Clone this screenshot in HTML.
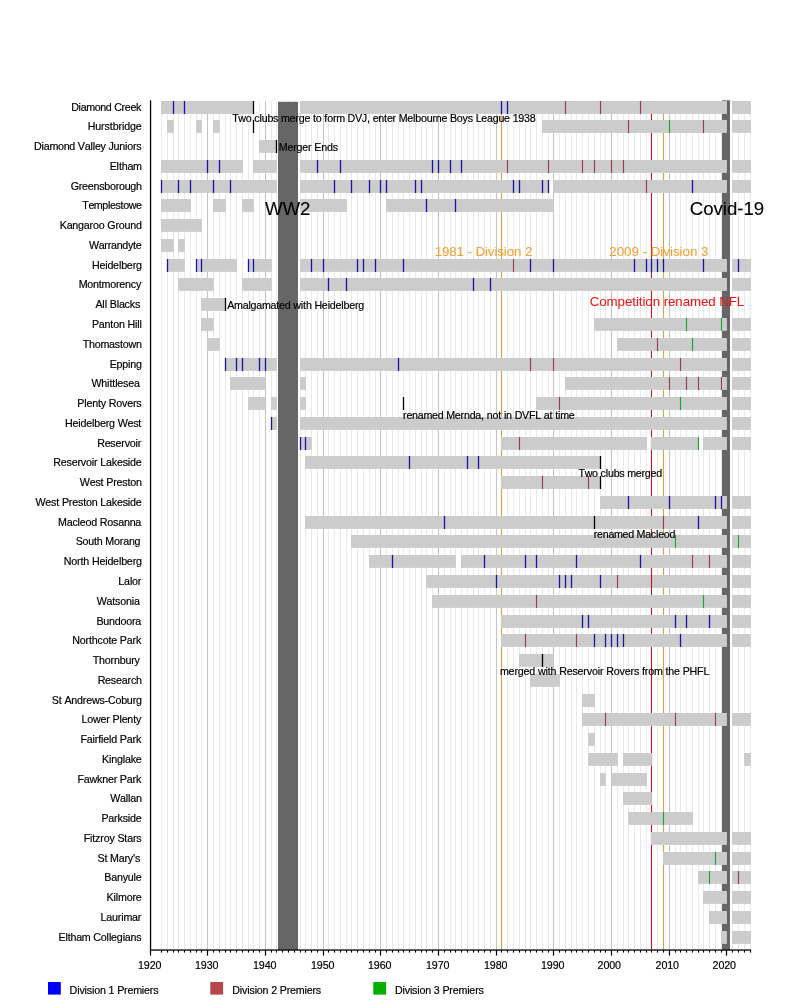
<!DOCTYPE html>
<html><head><meta charset="utf-8"><title>Timeline</title>
<style>
html,body{margin:0;padding:0;background:#fff;}
body{width:800px;height:1000px;overflow:hidden;}
svg{display:block;}
text{font-family:"Liberation Sans",sans-serif;}
</style></head><body>
<svg width="800" height="1000" viewBox="0 0 800 1000">
<rect x="0" y="0" width="800" height="1000" fill="#ffffff"/>
<rect x="161.00" y="101.00" width="1.00" height="849.00" fill="#e9e9e9"/>
<rect x="167.00" y="101.00" width="1.00" height="849.00" fill="#e9e9e9"/>
<rect x="173.00" y="101.00" width="1.00" height="849.00" fill="#e9e9e9"/>
<rect x="178.00" y="101.00" width="1.00" height="849.00" fill="#e9e9e9"/>
<rect x="184.00" y="101.00" width="1.00" height="849.00" fill="#e9e9e9"/>
<rect x="190.00" y="101.00" width="1.00" height="849.00" fill="#e9e9e9"/>
<rect x="196.00" y="101.00" width="1.00" height="849.00" fill="#e9e9e9"/>
<rect x="201.00" y="101.00" width="1.00" height="849.00" fill="#e9e9e9"/>
<rect x="213.00" y="101.00" width="1.00" height="849.00" fill="#e9e9e9"/>
<rect x="219.00" y="101.00" width="1.00" height="849.00" fill="#e9e9e9"/>
<rect x="225.00" y="101.00" width="1.00" height="849.00" fill="#e9e9e9"/>
<rect x="230.00" y="101.00" width="1.00" height="849.00" fill="#e9e9e9"/>
<rect x="236.00" y="101.00" width="1.00" height="849.00" fill="#e9e9e9"/>
<rect x="242.00" y="101.00" width="1.00" height="849.00" fill="#e9e9e9"/>
<rect x="248.00" y="101.00" width="1.00" height="849.00" fill="#e9e9e9"/>
<rect x="253.00" y="101.00" width="1.00" height="849.00" fill="#e9e9e9"/>
<rect x="259.00" y="101.00" width="1.00" height="849.00" fill="#e9e9e9"/>
<rect x="271.00" y="101.00" width="1.00" height="849.00" fill="#e9e9e9"/>
<rect x="276.00" y="101.00" width="1.00" height="849.00" fill="#e9e9e9"/>
<rect x="282.00" y="101.00" width="1.00" height="849.00" fill="#e9e9e9"/>
<rect x="288.00" y="101.00" width="1.00" height="849.00" fill="#e9e9e9"/>
<rect x="294.00" y="101.00" width="1.00" height="849.00" fill="#e9e9e9"/>
<rect x="300.00" y="101.00" width="1.00" height="849.00" fill="#e9e9e9"/>
<rect x="305.00" y="101.00" width="1.00" height="849.00" fill="#e9e9e9"/>
<rect x="311.00" y="101.00" width="1.00" height="849.00" fill="#e9e9e9"/>
<rect x="317.00" y="101.00" width="1.00" height="849.00" fill="#e9e9e9"/>
<rect x="328.00" y="101.00" width="1.00" height="849.00" fill="#e9e9e9"/>
<rect x="334.00" y="101.00" width="1.00" height="849.00" fill="#e9e9e9"/>
<rect x="340.00" y="101.00" width="1.00" height="849.00" fill="#e9e9e9"/>
<rect x="346.00" y="101.00" width="1.00" height="849.00" fill="#e9e9e9"/>
<rect x="351.00" y="101.00" width="1.00" height="849.00" fill="#e9e9e9"/>
<rect x="357.00" y="101.00" width="1.00" height="849.00" fill="#e9e9e9"/>
<rect x="363.00" y="101.00" width="1.00" height="849.00" fill="#e9e9e9"/>
<rect x="369.00" y="101.00" width="1.00" height="849.00" fill="#e9e9e9"/>
<rect x="375.00" y="101.00" width="1.00" height="849.00" fill="#e9e9e9"/>
<rect x="386.00" y="101.00" width="1.00" height="849.00" fill="#e9e9e9"/>
<rect x="392.00" y="101.00" width="1.00" height="849.00" fill="#e9e9e9"/>
<rect x="398.00" y="101.00" width="1.00" height="849.00" fill="#e9e9e9"/>
<rect x="403.00" y="101.00" width="1.00" height="849.00" fill="#e9e9e9"/>
<rect x="409.00" y="101.00" width="1.00" height="849.00" fill="#e9e9e9"/>
<rect x="415.00" y="101.00" width="1.00" height="849.00" fill="#e9e9e9"/>
<rect x="421.00" y="101.00" width="1.00" height="849.00" fill="#e9e9e9"/>
<rect x="426.00" y="101.00" width="1.00" height="849.00" fill="#e9e9e9"/>
<rect x="432.00" y="101.00" width="1.00" height="849.00" fill="#e9e9e9"/>
<rect x="444.00" y="101.00" width="1.00" height="849.00" fill="#e9e9e9"/>
<rect x="450.00" y="101.00" width="1.00" height="849.00" fill="#e9e9e9"/>
<rect x="455.00" y="101.00" width="1.00" height="849.00" fill="#e9e9e9"/>
<rect x="461.00" y="101.00" width="1.00" height="849.00" fill="#e9e9e9"/>
<rect x="467.00" y="101.00" width="1.00" height="849.00" fill="#e9e9e9"/>
<rect x="473.00" y="101.00" width="1.00" height="849.00" fill="#e9e9e9"/>
<rect x="478.00" y="101.00" width="1.00" height="849.00" fill="#e9e9e9"/>
<rect x="484.00" y="101.00" width="1.00" height="849.00" fill="#e9e9e9"/>
<rect x="490.00" y="101.00" width="1.00" height="849.00" fill="#e9e9e9"/>
<rect x="501.00" y="101.00" width="1.00" height="849.00" fill="#e9e9e9"/>
<rect x="507.00" y="101.00" width="1.00" height="849.00" fill="#e9e9e9"/>
<rect x="513.00" y="101.00" width="1.00" height="849.00" fill="#e9e9e9"/>
<rect x="519.00" y="101.00" width="1.00" height="849.00" fill="#e9e9e9"/>
<rect x="525.00" y="101.00" width="1.00" height="849.00" fill="#e9e9e9"/>
<rect x="530.00" y="101.00" width="1.00" height="849.00" fill="#e9e9e9"/>
<rect x="536.00" y="101.00" width="1.00" height="849.00" fill="#e9e9e9"/>
<rect x="542.00" y="101.00" width="1.00" height="849.00" fill="#e9e9e9"/>
<rect x="548.00" y="101.00" width="1.00" height="849.00" fill="#e9e9e9"/>
<rect x="559.00" y="101.00" width="1.00" height="849.00" fill="#e9e9e9"/>
<rect x="565.00" y="101.00" width="1.00" height="849.00" fill="#e9e9e9"/>
<rect x="571.00" y="101.00" width="1.00" height="849.00" fill="#e9e9e9"/>
<rect x="576.00" y="101.00" width="1.00" height="849.00" fill="#e9e9e9"/>
<rect x="582.00" y="101.00" width="1.00" height="849.00" fill="#e9e9e9"/>
<rect x="588.00" y="101.00" width="1.00" height="849.00" fill="#e9e9e9"/>
<rect x="594.00" y="101.00" width="1.00" height="849.00" fill="#e9e9e9"/>
<rect x="600.00" y="101.00" width="1.00" height="849.00" fill="#e9e9e9"/>
<rect x="605.00" y="101.00" width="1.00" height="849.00" fill="#e9e9e9"/>
<rect x="617.00" y="101.00" width="1.00" height="849.00" fill="#e9e9e9"/>
<rect x="623.00" y="101.00" width="1.00" height="849.00" fill="#e9e9e9"/>
<rect x="628.00" y="101.00" width="1.00" height="849.00" fill="#e9e9e9"/>
<rect x="634.00" y="101.00" width="1.00" height="849.00" fill="#e9e9e9"/>
<rect x="640.00" y="101.00" width="1.00" height="849.00" fill="#e9e9e9"/>
<rect x="646.00" y="101.00" width="1.00" height="849.00" fill="#e9e9e9"/>
<rect x="651.00" y="101.00" width="1.00" height="849.00" fill="#e9e9e9"/>
<rect x="657.00" y="101.00" width="1.00" height="849.00" fill="#e9e9e9"/>
<rect x="663.00" y="101.00" width="1.00" height="849.00" fill="#e9e9e9"/>
<rect x="675.00" y="101.00" width="1.00" height="849.00" fill="#e9e9e9"/>
<rect x="680.00" y="101.00" width="1.00" height="849.00" fill="#e9e9e9"/>
<rect x="686.00" y="101.00" width="1.00" height="849.00" fill="#e9e9e9"/>
<rect x="692.00" y="101.00" width="1.00" height="849.00" fill="#e9e9e9"/>
<rect x="698.00" y="101.00" width="1.00" height="849.00" fill="#e9e9e9"/>
<rect x="703.00" y="101.00" width="1.00" height="849.00" fill="#e9e9e9"/>
<rect x="709.00" y="101.00" width="1.00" height="849.00" fill="#e9e9e9"/>
<rect x="715.00" y="101.00" width="1.00" height="849.00" fill="#e9e9e9"/>
<rect x="721.00" y="101.00" width="1.00" height="849.00" fill="#e9e9e9"/>
<rect x="732.00" y="101.00" width="1.00" height="849.00" fill="#e9e9e9"/>
<rect x="738.00" y="101.00" width="1.00" height="849.00" fill="#e9e9e9"/>
<rect x="744.00" y="101.00" width="1.00" height="849.00" fill="#e9e9e9"/>
<rect x="750.00" y="101.00" width="1.00" height="849.00" fill="#e9e9e9"/>
<rect x="206.95" y="101.00" width="1.10" height="849.00" fill="#c4c4c4"/>
<rect x="264.95" y="101.00" width="1.10" height="849.00" fill="#c4c4c4"/>
<rect x="322.95" y="101.00" width="1.10" height="849.00" fill="#c4c4c4"/>
<rect x="379.95" y="101.00" width="1.10" height="849.00" fill="#c4c4c4"/>
<rect x="437.95" y="101.00" width="1.10" height="849.00" fill="#c4c4c4"/>
<rect x="495.95" y="101.00" width="1.10" height="849.00" fill="#c4c4c4"/>
<rect x="552.95" y="101.00" width="1.10" height="849.00" fill="#c4c4c4"/>
<rect x="610.95" y="101.00" width="1.10" height="849.00" fill="#c4c4c4"/>
<rect x="668.95" y="101.00" width="1.10" height="849.00" fill="#c4c4c4"/>
<rect x="725.95" y="101.00" width="1.10" height="849.00" fill="#c4c4c4"/>
<rect x="278.00" y="101.80" width="20.00" height="848.20" fill="#666666"/>
<rect x="722.00" y="100.30" width="8.00" height="849.70" fill="#666666"/>
<rect x="500.93" y="101.00" width="1.15" height="849.00" fill="#e2a040"/>
<rect x="650.95" y="101.00" width="1.10" height="849.00" fill="#cc1420"/>
<rect x="662.92" y="101.00" width="1.15" height="849.00" fill="#e2a040"/>
<rect x="161.00" y="101.00" width="92.90" height="12.90" fill="#cccccc"/>
<rect x="300.00" y="101.00" width="426.90" height="12.90" fill="#cccccc"/>
<rect x="732.00" y="101.00" width="18.90" height="12.90" fill="#cccccc"/>
<rect x="172.85" y="101.00" width="1.30" height="13.00" fill="#1b12a8"/>
<rect x="183.85" y="101.00" width="1.30" height="13.00" fill="#1b12a8"/>
<rect x="500.85" y="101.00" width="1.30" height="13.00" fill="#1b12a8"/>
<rect x="506.85" y="101.00" width="1.30" height="13.00" fill="#1b12a8"/>
<rect x="564.92" y="101.00" width="1.15" height="13.00" fill="#96404f"/>
<rect x="599.92" y="101.00" width="1.15" height="13.00" fill="#96404f"/>
<rect x="639.92" y="101.00" width="1.15" height="13.00" fill="#96404f"/>
<rect x="252.85" y="101.00" width="1.30" height="13.00" fill="#000000"/>
<rect x="167.00" y="120.00" width="6.90" height="12.90" fill="#cccccc"/>
<rect x="196.00" y="120.00" width="5.90" height="12.90" fill="#cccccc"/>
<rect x="213.00" y="120.00" width="6.90" height="12.90" fill="#cccccc"/>
<rect x="542.00" y="120.00" width="184.90" height="12.90" fill="#cccccc"/>
<rect x="732.00" y="120.00" width="18.90" height="12.90" fill="#cccccc"/>
<rect x="627.92" y="120.00" width="1.15" height="13.00" fill="#96404f"/>
<rect x="702.92" y="120.00" width="1.15" height="13.00" fill="#96404f"/>
<rect x="668.92" y="120.00" width="1.15" height="13.00" fill="#18a838"/>
<rect x="252.85" y="120.00" width="1.30" height="13.00" fill="#000000"/>
<rect x="259.00" y="140.00" width="17.90" height="12.90" fill="#cccccc"/>
<rect x="275.85" y="140.00" width="1.30" height="13.00" fill="#000000"/>
<rect x="161.00" y="160.00" width="81.90" height="12.90" fill="#cccccc"/>
<rect x="253.00" y="160.00" width="23.90" height="12.90" fill="#cccccc"/>
<rect x="300.00" y="160.00" width="426.90" height="12.90" fill="#cccccc"/>
<rect x="732.00" y="160.00" width="18.90" height="12.90" fill="#cccccc"/>
<rect x="206.85" y="160.00" width="1.30" height="13.00" fill="#1b12a8"/>
<rect x="218.85" y="160.00" width="1.30" height="13.00" fill="#1b12a8"/>
<rect x="316.85" y="160.00" width="1.30" height="13.00" fill="#1b12a8"/>
<rect x="339.85" y="160.00" width="1.30" height="13.00" fill="#1b12a8"/>
<rect x="431.85" y="160.00" width="1.30" height="13.00" fill="#1b12a8"/>
<rect x="437.85" y="160.00" width="1.30" height="13.00" fill="#1b12a8"/>
<rect x="449.85" y="160.00" width="1.30" height="13.00" fill="#1b12a8"/>
<rect x="460.85" y="160.00" width="1.30" height="13.00" fill="#1b12a8"/>
<rect x="506.93" y="160.00" width="1.15" height="13.00" fill="#96404f"/>
<rect x="547.92" y="160.00" width="1.15" height="13.00" fill="#96404f"/>
<rect x="581.92" y="160.00" width="1.15" height="13.00" fill="#96404f"/>
<rect x="593.92" y="160.00" width="1.15" height="13.00" fill="#96404f"/>
<rect x="610.92" y="160.00" width="1.15" height="13.00" fill="#96404f"/>
<rect x="622.92" y="160.00" width="1.15" height="13.00" fill="#96404f"/>
<rect x="161.00" y="180.00" width="115.90" height="12.90" fill="#cccccc"/>
<rect x="300.00" y="180.00" width="248.90" height="12.90" fill="#cccccc"/>
<rect x="553.00" y="180.00" width="173.90" height="12.90" fill="#cccccc"/>
<rect x="732.00" y="180.00" width="18.90" height="12.90" fill="#cccccc"/>
<rect x="160.85" y="180.00" width="1.30" height="13.00" fill="#1b12a8"/>
<rect x="177.85" y="180.00" width="1.30" height="13.00" fill="#1b12a8"/>
<rect x="189.85" y="180.00" width="1.30" height="13.00" fill="#1b12a8"/>
<rect x="212.85" y="180.00" width="1.30" height="13.00" fill="#1b12a8"/>
<rect x="229.85" y="180.00" width="1.30" height="13.00" fill="#1b12a8"/>
<rect x="333.85" y="180.00" width="1.30" height="13.00" fill="#1b12a8"/>
<rect x="350.85" y="180.00" width="1.30" height="13.00" fill="#1b12a8"/>
<rect x="368.85" y="180.00" width="1.30" height="13.00" fill="#1b12a8"/>
<rect x="379.85" y="180.00" width="1.30" height="13.00" fill="#1b12a8"/>
<rect x="385.85" y="180.00" width="1.30" height="13.00" fill="#1b12a8"/>
<rect x="414.85" y="180.00" width="1.30" height="13.00" fill="#1b12a8"/>
<rect x="420.85" y="180.00" width="1.30" height="13.00" fill="#1b12a8"/>
<rect x="512.85" y="180.00" width="1.30" height="13.00" fill="#1b12a8"/>
<rect x="518.85" y="180.00" width="1.30" height="13.00" fill="#1b12a8"/>
<rect x="541.85" y="180.00" width="1.30" height="13.00" fill="#1b12a8"/>
<rect x="547.85" y="180.00" width="1.30" height="13.00" fill="#1b12a8"/>
<rect x="691.85" y="180.00" width="1.30" height="13.00" fill="#1b12a8"/>
<rect x="645.92" y="180.00" width="1.15" height="13.00" fill="#96404f"/>
<rect x="161.00" y="199.00" width="29.90" height="12.90" fill="#cccccc"/>
<rect x="213.00" y="199.00" width="12.90" height="12.90" fill="#cccccc"/>
<rect x="242.00" y="199.00" width="11.90" height="12.90" fill="#cccccc"/>
<rect x="300.00" y="199.00" width="46.90" height="12.90" fill="#cccccc"/>
<rect x="386.00" y="199.00" width="167.90" height="12.90" fill="#cccccc"/>
<rect x="425.85" y="199.00" width="1.30" height="13.00" fill="#1b12a8"/>
<rect x="454.85" y="199.00" width="1.30" height="13.00" fill="#1b12a8"/>
<rect x="161.00" y="219.00" width="40.90" height="12.90" fill="#cccccc"/>
<rect x="161.00" y="239.00" width="12.90" height="12.90" fill="#cccccc"/>
<rect x="178.00" y="239.00" width="6.90" height="12.90" fill="#cccccc"/>
<rect x="167.00" y="259.00" width="17.90" height="12.90" fill="#cccccc"/>
<rect x="196.00" y="259.00" width="40.90" height="12.90" fill="#cccccc"/>
<rect x="248.00" y="259.00" width="23.90" height="12.90" fill="#cccccc"/>
<rect x="300.00" y="259.00" width="426.90" height="12.90" fill="#cccccc"/>
<rect x="732.00" y="259.00" width="18.90" height="12.90" fill="#cccccc"/>
<rect x="166.85" y="259.00" width="1.30" height="13.00" fill="#1b12a8"/>
<rect x="195.85" y="259.00" width="1.30" height="13.00" fill="#1b12a8"/>
<rect x="200.85" y="259.00" width="1.30" height="13.00" fill="#1b12a8"/>
<rect x="247.85" y="259.00" width="1.30" height="13.00" fill="#1b12a8"/>
<rect x="252.85" y="259.00" width="1.30" height="13.00" fill="#1b12a8"/>
<rect x="310.85" y="259.00" width="1.30" height="13.00" fill="#1b12a8"/>
<rect x="322.85" y="259.00" width="1.30" height="13.00" fill="#1b12a8"/>
<rect x="356.85" y="259.00" width="1.30" height="13.00" fill="#1b12a8"/>
<rect x="362.85" y="259.00" width="1.30" height="13.00" fill="#1b12a8"/>
<rect x="374.85" y="259.00" width="1.30" height="13.00" fill="#1b12a8"/>
<rect x="402.85" y="259.00" width="1.30" height="13.00" fill="#1b12a8"/>
<rect x="529.85" y="259.00" width="1.30" height="13.00" fill="#1b12a8"/>
<rect x="552.85" y="259.00" width="1.30" height="13.00" fill="#1b12a8"/>
<rect x="633.85" y="259.00" width="1.30" height="13.00" fill="#1b12a8"/>
<rect x="645.85" y="259.00" width="1.30" height="13.00" fill="#1b12a8"/>
<rect x="650.85" y="259.00" width="1.30" height="13.00" fill="#1b12a8"/>
<rect x="656.85" y="259.00" width="1.30" height="13.00" fill="#1b12a8"/>
<rect x="662.85" y="259.00" width="1.30" height="13.00" fill="#1b12a8"/>
<rect x="702.85" y="259.00" width="1.30" height="13.00" fill="#1b12a8"/>
<rect x="737.85" y="259.00" width="1.30" height="13.00" fill="#1b12a8"/>
<rect x="512.92" y="259.00" width="1.15" height="13.00" fill="#96404f"/>
<rect x="178.00" y="278.00" width="35.90" height="12.90" fill="#cccccc"/>
<rect x="242.00" y="278.00" width="29.90" height="12.90" fill="#cccccc"/>
<rect x="300.00" y="278.00" width="426.90" height="12.90" fill="#cccccc"/>
<rect x="732.00" y="278.00" width="18.90" height="12.90" fill="#cccccc"/>
<rect x="327.85" y="278.00" width="1.30" height="13.00" fill="#1b12a8"/>
<rect x="345.85" y="278.00" width="1.30" height="13.00" fill="#1b12a8"/>
<rect x="472.85" y="278.00" width="1.30" height="13.00" fill="#1b12a8"/>
<rect x="489.85" y="278.00" width="1.30" height="13.00" fill="#1b12a8"/>
<rect x="201.00" y="298.00" width="24.90" height="12.90" fill="#cccccc"/>
<rect x="224.85" y="298.00" width="1.30" height="13.00" fill="#000000"/>
<rect x="201.00" y="318.00" width="12.90" height="12.90" fill="#cccccc"/>
<rect x="594.00" y="318.00" width="132.90" height="12.90" fill="#cccccc"/>
<rect x="732.00" y="318.00" width="18.90" height="12.90" fill="#cccccc"/>
<rect x="685.92" y="318.00" width="1.15" height="13.00" fill="#18a838"/>
<rect x="720.92" y="318.00" width="1.15" height="13.00" fill="#18a838"/>
<rect x="207.00" y="338.00" width="12.90" height="12.90" fill="#cccccc"/>
<rect x="617.00" y="338.00" width="109.90" height="12.90" fill="#cccccc"/>
<rect x="732.00" y="338.00" width="18.90" height="12.90" fill="#cccccc"/>
<rect x="656.92" y="338.00" width="1.15" height="13.00" fill="#96404f"/>
<rect x="691.92" y="338.00" width="1.15" height="13.00" fill="#18a838"/>
<rect x="225.00" y="358.00" width="51.90" height="12.90" fill="#cccccc"/>
<rect x="300.00" y="358.00" width="426.90" height="12.90" fill="#cccccc"/>
<rect x="732.00" y="358.00" width="18.90" height="12.90" fill="#cccccc"/>
<rect x="224.85" y="358.00" width="1.30" height="13.00" fill="#1b12a8"/>
<rect x="235.85" y="358.00" width="1.30" height="13.00" fill="#1b12a8"/>
<rect x="241.85" y="358.00" width="1.30" height="13.00" fill="#1b12a8"/>
<rect x="258.85" y="358.00" width="1.30" height="13.00" fill="#1b12a8"/>
<rect x="264.85" y="358.00" width="1.30" height="13.00" fill="#1b12a8"/>
<rect x="397.85" y="358.00" width="1.30" height="13.00" fill="#1b12a8"/>
<rect x="529.92" y="358.00" width="1.15" height="13.00" fill="#96404f"/>
<rect x="552.92" y="358.00" width="1.15" height="13.00" fill="#96404f"/>
<rect x="679.92" y="358.00" width="1.15" height="13.00" fill="#96404f"/>
<rect x="230.00" y="377.00" width="35.90" height="12.90" fill="#cccccc"/>
<rect x="300.00" y="377.00" width="5.90" height="12.90" fill="#cccccc"/>
<rect x="565.00" y="377.00" width="161.90" height="12.90" fill="#cccccc"/>
<rect x="732.00" y="377.00" width="18.90" height="12.90" fill="#cccccc"/>
<rect x="668.92" y="377.00" width="1.15" height="13.00" fill="#96404f"/>
<rect x="685.92" y="377.00" width="1.15" height="13.00" fill="#96404f"/>
<rect x="697.92" y="377.00" width="1.15" height="13.00" fill="#96404f"/>
<rect x="720.92" y="377.00" width="1.15" height="13.00" fill="#96404f"/>
<rect x="248.00" y="397.00" width="17.90" height="12.90" fill="#cccccc"/>
<rect x="271.00" y="397.00" width="5.90" height="12.90" fill="#cccccc"/>
<rect x="300.00" y="397.00" width="5.90" height="12.90" fill="#cccccc"/>
<rect x="536.00" y="397.00" width="190.90" height="12.90" fill="#cccccc"/>
<rect x="732.00" y="397.00" width="18.90" height="12.90" fill="#cccccc"/>
<rect x="558.92" y="397.00" width="1.15" height="13.00" fill="#96404f"/>
<rect x="679.92" y="397.00" width="1.15" height="13.00" fill="#18a838"/>
<rect x="402.85" y="397.00" width="1.30" height="13.00" fill="#000000"/>
<rect x="271.00" y="417.00" width="5.90" height="12.90" fill="#cccccc"/>
<rect x="300.00" y="417.00" width="426.90" height="12.90" fill="#cccccc"/>
<rect x="732.00" y="417.00" width="18.90" height="12.90" fill="#cccccc"/>
<rect x="270.85" y="417.00" width="1.30" height="13.00" fill="#1b12a8"/>
<rect x="300.00" y="437.00" width="11.90" height="12.90" fill="#cccccc"/>
<rect x="501.00" y="437.00" width="145.90" height="12.90" fill="#cccccc"/>
<rect x="651.00" y="437.00" width="47.90" height="12.90" fill="#cccccc"/>
<rect x="703.00" y="437.00" width="23.90" height="12.90" fill="#cccccc"/>
<rect x="732.00" y="437.00" width="18.90" height="12.90" fill="#cccccc"/>
<rect x="299.85" y="437.00" width="1.30" height="13.00" fill="#1b12a8"/>
<rect x="304.85" y="437.00" width="1.30" height="13.00" fill="#1b12a8"/>
<rect x="518.92" y="437.00" width="1.15" height="13.00" fill="#96404f"/>
<rect x="697.92" y="437.00" width="1.15" height="13.00" fill="#18a838"/>
<rect x="305.00" y="456.00" width="295.90" height="12.90" fill="#cccccc"/>
<rect x="408.85" y="456.00" width="1.30" height="13.00" fill="#1b12a8"/>
<rect x="466.85" y="456.00" width="1.30" height="13.00" fill="#1b12a8"/>
<rect x="477.85" y="456.00" width="1.30" height="13.00" fill="#1b12a8"/>
<rect x="599.85" y="456.00" width="1.30" height="13.00" fill="#000000"/>
<rect x="501.00" y="476.00" width="99.90" height="12.90" fill="#cccccc"/>
<rect x="541.92" y="476.00" width="1.15" height="13.00" fill="#96404f"/>
<rect x="587.92" y="476.00" width="1.15" height="13.00" fill="#96404f"/>
<rect x="599.85" y="476.00" width="1.30" height="13.00" fill="#000000"/>
<rect x="600.00" y="496.00" width="126.90" height="12.90" fill="#cccccc"/>
<rect x="732.00" y="496.00" width="18.90" height="12.90" fill="#cccccc"/>
<rect x="627.85" y="496.00" width="1.30" height="13.00" fill="#1b12a8"/>
<rect x="668.85" y="496.00" width="1.30" height="13.00" fill="#1b12a8"/>
<rect x="714.85" y="496.00" width="1.30" height="13.00" fill="#1b12a8"/>
<rect x="720.85" y="496.00" width="1.30" height="13.00" fill="#1b12a8"/>
<rect x="305.00" y="516.00" width="421.90" height="12.90" fill="#cccccc"/>
<rect x="732.00" y="516.00" width="18.90" height="12.90" fill="#cccccc"/>
<rect x="443.85" y="516.00" width="1.30" height="13.00" fill="#1b12a8"/>
<rect x="697.85" y="516.00" width="1.30" height="13.00" fill="#1b12a8"/>
<rect x="662.92" y="516.00" width="1.15" height="13.00" fill="#96404f"/>
<rect x="593.85" y="516.00" width="1.30" height="13.00" fill="#000000"/>
<rect x="351.00" y="535.00" width="375.90" height="12.90" fill="#cccccc"/>
<rect x="732.00" y="535.00" width="18.90" height="12.90" fill="#cccccc"/>
<rect x="674.92" y="535.00" width="1.15" height="13.00" fill="#18a838"/>
<rect x="737.92" y="535.00" width="1.15" height="13.00" fill="#18a838"/>
<rect x="369.00" y="555.00" width="86.90" height="12.90" fill="#cccccc"/>
<rect x="461.00" y="555.00" width="265.90" height="12.90" fill="#cccccc"/>
<rect x="732.00" y="555.00" width="18.90" height="12.90" fill="#cccccc"/>
<rect x="391.85" y="555.00" width="1.30" height="13.00" fill="#1b12a8"/>
<rect x="483.85" y="555.00" width="1.30" height="13.00" fill="#1b12a8"/>
<rect x="524.85" y="555.00" width="1.30" height="13.00" fill="#1b12a8"/>
<rect x="535.85" y="555.00" width="1.30" height="13.00" fill="#1b12a8"/>
<rect x="575.85" y="555.00" width="1.30" height="13.00" fill="#1b12a8"/>
<rect x="639.85" y="555.00" width="1.30" height="13.00" fill="#1b12a8"/>
<rect x="691.92" y="555.00" width="1.15" height="13.00" fill="#96404f"/>
<rect x="708.92" y="555.00" width="1.15" height="13.00" fill="#96404f"/>
<rect x="426.00" y="575.00" width="300.90" height="12.90" fill="#cccccc"/>
<rect x="732.00" y="575.00" width="18.90" height="12.90" fill="#cccccc"/>
<rect x="495.85" y="575.00" width="1.30" height="13.00" fill="#1b12a8"/>
<rect x="558.85" y="575.00" width="1.30" height="13.00" fill="#1b12a8"/>
<rect x="564.85" y="575.00" width="1.30" height="13.00" fill="#1b12a8"/>
<rect x="570.85" y="575.00" width="1.30" height="13.00" fill="#1b12a8"/>
<rect x="599.85" y="575.00" width="1.30" height="13.00" fill="#1b12a8"/>
<rect x="616.92" y="575.00" width="1.15" height="13.00" fill="#96404f"/>
<rect x="650.92" y="575.00" width="1.15" height="13.00" fill="#cc1420"/>
<rect x="432.00" y="595.00" width="294.90" height="12.90" fill="#cccccc"/>
<rect x="732.00" y="595.00" width="18.90" height="12.90" fill="#cccccc"/>
<rect x="535.92" y="595.00" width="1.15" height="13.00" fill="#96404f"/>
<rect x="702.92" y="595.00" width="1.15" height="13.00" fill="#18a838"/>
<rect x="501.00" y="615.00" width="225.90" height="12.90" fill="#cccccc"/>
<rect x="732.00" y="615.00" width="18.90" height="12.90" fill="#cccccc"/>
<rect x="581.85" y="615.00" width="1.30" height="13.00" fill="#1b12a8"/>
<rect x="587.85" y="615.00" width="1.30" height="13.00" fill="#1b12a8"/>
<rect x="674.85" y="615.00" width="1.30" height="13.00" fill="#1b12a8"/>
<rect x="685.85" y="615.00" width="1.30" height="13.00" fill="#1b12a8"/>
<rect x="708.85" y="615.00" width="1.30" height="13.00" fill="#1b12a8"/>
<rect x="501.00" y="634.00" width="225.90" height="12.90" fill="#cccccc"/>
<rect x="732.00" y="634.00" width="18.90" height="12.90" fill="#cccccc"/>
<rect x="524.92" y="634.00" width="1.15" height="13.00" fill="#96404f"/>
<rect x="575.92" y="634.00" width="1.15" height="13.00" fill="#96404f"/>
<rect x="593.85" y="634.00" width="1.30" height="13.00" fill="#1b12a8"/>
<rect x="604.85" y="634.00" width="1.30" height="13.00" fill="#1b12a8"/>
<rect x="610.85" y="634.00" width="1.30" height="13.00" fill="#1b12a8"/>
<rect x="616.85" y="634.00" width="1.30" height="13.00" fill="#1b12a8"/>
<rect x="622.85" y="634.00" width="1.30" height="13.00" fill="#1b12a8"/>
<rect x="679.85" y="634.00" width="1.30" height="13.00" fill="#1b12a8"/>
<rect x="519.00" y="654.00" width="34.90" height="12.90" fill="#cccccc"/>
<rect x="541.85" y="654.00" width="1.30" height="13.00" fill="#000000"/>
<rect x="530.00" y="674.00" width="29.90" height="12.90" fill="#cccccc"/>
<rect x="582.00" y="694.00" width="12.90" height="12.90" fill="#cccccc"/>
<rect x="582.00" y="713.00" width="144.90" height="12.90" fill="#cccccc"/>
<rect x="732.00" y="713.00" width="18.90" height="12.90" fill="#cccccc"/>
<rect x="604.92" y="713.00" width="1.15" height="13.00" fill="#96404f"/>
<rect x="674.92" y="713.00" width="1.15" height="13.00" fill="#96404f"/>
<rect x="714.92" y="713.00" width="1.15" height="13.00" fill="#96404f"/>
<rect x="588.00" y="733.00" width="6.90" height="12.90" fill="#cccccc"/>
<rect x="588.00" y="753.00" width="29.90" height="12.90" fill="#cccccc"/>
<rect x="623.00" y="753.00" width="28.90" height="12.90" fill="#cccccc"/>
<rect x="744.00" y="753.00" width="6.90" height="12.90" fill="#cccccc"/>
<rect x="600.00" y="773.00" width="5.90" height="12.90" fill="#cccccc"/>
<rect x="611.00" y="773.00" width="35.90" height="12.90" fill="#cccccc"/>
<rect x="623.00" y="792.00" width="28.90" height="12.90" fill="#cccccc"/>
<rect x="628.00" y="812.00" width="64.90" height="12.90" fill="#cccccc"/>
<rect x="662.92" y="812.00" width="1.15" height="13.00" fill="#18a838"/>
<rect x="651.00" y="832.00" width="75.90" height="12.90" fill="#cccccc"/>
<rect x="732.00" y="832.00" width="18.90" height="12.90" fill="#cccccc"/>
<rect x="663.00" y="852.00" width="63.90" height="12.90" fill="#cccccc"/>
<rect x="732.00" y="852.00" width="18.90" height="12.90" fill="#cccccc"/>
<rect x="714.92" y="852.00" width="1.15" height="13.00" fill="#18a838"/>
<rect x="698.00" y="871.00" width="28.90" height="12.90" fill="#cccccc"/>
<rect x="732.00" y="871.00" width="18.90" height="12.90" fill="#cccccc"/>
<rect x="708.92" y="871.00" width="1.15" height="13.00" fill="#18a838"/>
<rect x="737.92" y="871.00" width="1.15" height="13.00" fill="#96404f"/>
<rect x="703.00" y="891.00" width="23.90" height="12.90" fill="#cccccc"/>
<rect x="732.00" y="891.00" width="18.90" height="12.90" fill="#cccccc"/>
<rect x="709.00" y="911.00" width="17.90" height="12.90" fill="#cccccc"/>
<rect x="732.00" y="911.00" width="18.90" height="12.90" fill="#cccccc"/>
<rect x="721.00" y="931.00" width="5.90" height="12.90" fill="#cccccc"/>
<rect x="732.00" y="931.00" width="18.90" height="12.90" fill="#cccccc"/>
<rect x="149.90" y="100.20" width="1.30" height="850.40" fill="#000"/>
<rect x="149.90" y="949.40" width="601.20" height="1.30" fill="#000"/>
<rect x="149.90" y="950.00" width="1.20" height="5.60" fill="#000"/>
<rect x="160.95" y="950.00" width="1.10" height="2.60" fill="#000"/>
<rect x="166.95" y="950.00" width="1.10" height="2.60" fill="#000"/>
<rect x="172.95" y="950.00" width="1.10" height="2.60" fill="#000"/>
<rect x="177.95" y="950.00" width="1.10" height="2.60" fill="#000"/>
<rect x="183.95" y="950.00" width="1.10" height="2.60" fill="#000"/>
<rect x="189.95" y="950.00" width="1.10" height="2.60" fill="#000"/>
<rect x="195.95" y="950.00" width="1.10" height="2.60" fill="#000"/>
<rect x="200.95" y="950.00" width="1.10" height="2.60" fill="#000"/>
<rect x="206.90" y="950.00" width="1.20" height="5.60" fill="#000"/>
<rect x="212.95" y="950.00" width="1.10" height="2.60" fill="#000"/>
<rect x="218.95" y="950.00" width="1.10" height="2.60" fill="#000"/>
<rect x="224.95" y="950.00" width="1.10" height="2.60" fill="#000"/>
<rect x="229.95" y="950.00" width="1.10" height="2.60" fill="#000"/>
<rect x="235.95" y="950.00" width="1.10" height="2.60" fill="#000"/>
<rect x="241.95" y="950.00" width="1.10" height="2.60" fill="#000"/>
<rect x="247.95" y="950.00" width="1.10" height="2.60" fill="#000"/>
<rect x="252.95" y="950.00" width="1.10" height="2.60" fill="#000"/>
<rect x="258.95" y="950.00" width="1.10" height="2.60" fill="#000"/>
<rect x="264.90" y="950.00" width="1.20" height="5.60" fill="#000"/>
<rect x="270.95" y="950.00" width="1.10" height="2.60" fill="#000"/>
<rect x="275.95" y="950.00" width="1.10" height="2.60" fill="#000"/>
<rect x="281.95" y="950.00" width="1.10" height="2.60" fill="#000"/>
<rect x="287.95" y="950.00" width="1.10" height="2.60" fill="#000"/>
<rect x="293.95" y="950.00" width="1.10" height="2.60" fill="#000"/>
<rect x="299.95" y="950.00" width="1.10" height="2.60" fill="#000"/>
<rect x="304.95" y="950.00" width="1.10" height="2.60" fill="#000"/>
<rect x="310.95" y="950.00" width="1.10" height="2.60" fill="#000"/>
<rect x="316.95" y="950.00" width="1.10" height="2.60" fill="#000"/>
<rect x="322.90" y="950.00" width="1.20" height="5.60" fill="#000"/>
<rect x="327.95" y="950.00" width="1.10" height="2.60" fill="#000"/>
<rect x="333.95" y="950.00" width="1.10" height="2.60" fill="#000"/>
<rect x="339.95" y="950.00" width="1.10" height="2.60" fill="#000"/>
<rect x="345.95" y="950.00" width="1.10" height="2.60" fill="#000"/>
<rect x="350.95" y="950.00" width="1.10" height="2.60" fill="#000"/>
<rect x="356.95" y="950.00" width="1.10" height="2.60" fill="#000"/>
<rect x="362.95" y="950.00" width="1.10" height="2.60" fill="#000"/>
<rect x="368.95" y="950.00" width="1.10" height="2.60" fill="#000"/>
<rect x="374.95" y="950.00" width="1.10" height="2.60" fill="#000"/>
<rect x="379.90" y="950.00" width="1.20" height="5.60" fill="#000"/>
<rect x="385.95" y="950.00" width="1.10" height="2.60" fill="#000"/>
<rect x="391.95" y="950.00" width="1.10" height="2.60" fill="#000"/>
<rect x="397.95" y="950.00" width="1.10" height="2.60" fill="#000"/>
<rect x="402.95" y="950.00" width="1.10" height="2.60" fill="#000"/>
<rect x="408.95" y="950.00" width="1.10" height="2.60" fill="#000"/>
<rect x="414.95" y="950.00" width="1.10" height="2.60" fill="#000"/>
<rect x="420.95" y="950.00" width="1.10" height="2.60" fill="#000"/>
<rect x="425.95" y="950.00" width="1.10" height="2.60" fill="#000"/>
<rect x="431.95" y="950.00" width="1.10" height="2.60" fill="#000"/>
<rect x="437.90" y="950.00" width="1.20" height="5.60" fill="#000"/>
<rect x="443.95" y="950.00" width="1.10" height="2.60" fill="#000"/>
<rect x="449.95" y="950.00" width="1.10" height="2.60" fill="#000"/>
<rect x="454.95" y="950.00" width="1.10" height="2.60" fill="#000"/>
<rect x="460.95" y="950.00" width="1.10" height="2.60" fill="#000"/>
<rect x="466.95" y="950.00" width="1.10" height="2.60" fill="#000"/>
<rect x="472.95" y="950.00" width="1.10" height="2.60" fill="#000"/>
<rect x="477.95" y="950.00" width="1.10" height="2.60" fill="#000"/>
<rect x="483.95" y="950.00" width="1.10" height="2.60" fill="#000"/>
<rect x="489.95" y="950.00" width="1.10" height="2.60" fill="#000"/>
<rect x="495.90" y="950.00" width="1.20" height="5.60" fill="#000"/>
<rect x="500.95" y="950.00" width="1.10" height="2.60" fill="#000"/>
<rect x="506.95" y="950.00" width="1.10" height="2.60" fill="#000"/>
<rect x="512.95" y="950.00" width="1.10" height="2.60" fill="#000"/>
<rect x="518.95" y="950.00" width="1.10" height="2.60" fill="#000"/>
<rect x="524.95" y="950.00" width="1.10" height="2.60" fill="#000"/>
<rect x="529.95" y="950.00" width="1.10" height="2.60" fill="#000"/>
<rect x="535.95" y="950.00" width="1.10" height="2.60" fill="#000"/>
<rect x="541.95" y="950.00" width="1.10" height="2.60" fill="#000"/>
<rect x="547.95" y="950.00" width="1.10" height="2.60" fill="#000"/>
<rect x="552.90" y="950.00" width="1.20" height="5.60" fill="#000"/>
<rect x="558.95" y="950.00" width="1.10" height="2.60" fill="#000"/>
<rect x="564.95" y="950.00" width="1.10" height="2.60" fill="#000"/>
<rect x="570.95" y="950.00" width="1.10" height="2.60" fill="#000"/>
<rect x="575.95" y="950.00" width="1.10" height="2.60" fill="#000"/>
<rect x="581.95" y="950.00" width="1.10" height="2.60" fill="#000"/>
<rect x="587.95" y="950.00" width="1.10" height="2.60" fill="#000"/>
<rect x="593.95" y="950.00" width="1.10" height="2.60" fill="#000"/>
<rect x="599.95" y="950.00" width="1.10" height="2.60" fill="#000"/>
<rect x="604.95" y="950.00" width="1.10" height="2.60" fill="#000"/>
<rect x="610.90" y="950.00" width="1.20" height="5.60" fill="#000"/>
<rect x="616.95" y="950.00" width="1.10" height="2.60" fill="#000"/>
<rect x="622.95" y="950.00" width="1.10" height="2.60" fill="#000"/>
<rect x="627.95" y="950.00" width="1.10" height="2.60" fill="#000"/>
<rect x="633.95" y="950.00" width="1.10" height="2.60" fill="#000"/>
<rect x="639.95" y="950.00" width="1.10" height="2.60" fill="#000"/>
<rect x="645.95" y="950.00" width="1.10" height="2.60" fill="#000"/>
<rect x="650.95" y="950.00" width="1.10" height="2.60" fill="#000"/>
<rect x="656.95" y="950.00" width="1.10" height="2.60" fill="#000"/>
<rect x="662.95" y="950.00" width="1.10" height="2.60" fill="#000"/>
<rect x="668.90" y="950.00" width="1.20" height="5.60" fill="#000"/>
<rect x="674.95" y="950.00" width="1.10" height="2.60" fill="#000"/>
<rect x="679.95" y="950.00" width="1.10" height="2.60" fill="#000"/>
<rect x="685.95" y="950.00" width="1.10" height="2.60" fill="#000"/>
<rect x="691.95" y="950.00" width="1.10" height="2.60" fill="#000"/>
<rect x="697.95" y="950.00" width="1.10" height="2.60" fill="#000"/>
<rect x="702.95" y="950.00" width="1.10" height="2.60" fill="#000"/>
<rect x="708.95" y="950.00" width="1.10" height="2.60" fill="#000"/>
<rect x="714.95" y="950.00" width="1.10" height="2.60" fill="#000"/>
<rect x="720.95" y="950.00" width="1.10" height="2.60" fill="#000"/>
<rect x="725.90" y="950.00" width="1.20" height="5.60" fill="#000"/>
<rect x="731.95" y="950.00" width="1.10" height="2.60" fill="#000"/>
<rect x="737.95" y="950.00" width="1.10" height="2.60" fill="#000"/>
<rect x="743.95" y="950.00" width="1.10" height="2.60" fill="#000"/>
<rect x="749.95" y="950.00" width="1.10" height="2.60" fill="#000"/>
<text x="138.03 143.85 149.66 155.47" y="968.90" font-size="10.7" fill="#000" stroke="#000" stroke-width="0.18">1920</text>
<text x="195.03 200.85 206.66 212.47" y="968.90" font-size="10.7" fill="#000" stroke="#000" stroke-width="0.18">1930</text>
<text x="253.03 258.85 264.66 270.47" y="968.90" font-size="10.7" fill="#000" stroke="#000" stroke-width="0.18">1940</text>
<text x="311.03 316.85 322.66 328.47" y="968.90" font-size="10.7" fill="#000" stroke="#000" stroke-width="0.18">1950</text>
<text x="368.03 373.85 379.66 385.47" y="968.90" font-size="10.7" fill="#000" stroke="#000" stroke-width="0.18">1960</text>
<text x="426.03 431.85 437.66 443.47" y="968.90" font-size="10.7" fill="#000" stroke="#000" stroke-width="0.18">1970</text>
<text x="484.03 489.85 495.66 501.47" y="968.90" font-size="10.7" fill="#000" stroke="#000" stroke-width="0.18">1980</text>
<text x="541.03 546.85 552.66 558.47" y="968.90" font-size="10.7" fill="#000" stroke="#000" stroke-width="0.18">1990</text>
<text x="597.60 603.42 609.23 615.04" y="968.90" font-size="10.7" fill="#000" stroke="#000" stroke-width="0.18">2000</text>
<text x="655.60 661.42 667.23 673.04" y="968.90" font-size="10.7" fill="#000" stroke="#000" stroke-width="0.18">2010</text>
<text x="712.60 718.42 724.23 730.04" y="968.90" font-size="10.7" fill="#000" stroke="#000" stroke-width="0.18">2020</text>
<text x="71.14 78.56 80.68 86.18 94.64 100.23 105.82 111.50 114.15 121.53 124.80 130.39 136.00" y="111.25" font-size="10.7" fill="#000" stroke="#000" stroke-width="0.18">Diamond Creek</text>
<text x="87.74 95.28 101.11 104.55 109.79 112.64 118.46 121.95 124.21 130.00 135.79" y="130.25" font-size="10.7" fill="#000" stroke="#000" stroke-width="0.18">Hurstbridge</text>
<text x="34.09 41.59 43.77 49.39 57.96 63.64 69.33 75.07 77.82 84.66 90.42 92.69 94.88 100.57 105.73 108.52 113.61 119.29 125.06 127.24 132.98 136.34" y="150.25" font-size="10.7" fill="#000" stroke="#000" stroke-width="0.18">Diamond Valley Juniors</text>
<text x="109.63 116.60 118.88 121.69 127.44 133.12" y="170.25" font-size="10.7" fill="#000" stroke="#000" stroke-width="0.18">Eltham</text>
<text x="70.70 78.75 82.10 87.78 93.46 99.15 104.24 109.93 115.66 119.01 124.69 130.37 136.05" y="190.25" font-size="10.7" fill="#000" stroke="#000" stroke-width="0.18">Greensborough</text>
<text x="82.34 88.43 93.85 102.23 107.88 109.96 115.50 120.55 123.21 128.67 135.90" y="209.25" font-size="10.7" fill="#000" stroke="#000" stroke-width="0.18">Templestowe</text>
<text x="59.73 66.63 72.36 78.10 83.84 89.62 93.01 98.75 104.54 107.31 115.42 118.81 124.55 130.28 136.02" y="229.25" font-size="10.7" fill="#000" stroke="#000" stroke-width="0.18">Kangaroo Ground</text>
<text x="88.99 98.67 104.37 107.74 111.06 116.69 122.33 127.99 133.12 135.86" y="249.25" font-size="10.7" fill="#000" stroke="#000" stroke-width="0.18">Warrandyte</text>
<text x="91.90 99.38 105.17 107.39 113.12 118.92 121.14 126.87 132.64 136.02" y="269.25" font-size="10.7" fill="#000" stroke="#000" stroke-width="0.18">Heidelberg</text>
<text x="78.66 87.30 93.02 98.81 101.56 110.19 115.97 119.35 125.08 130.82 135.97" y="288.25" font-size="10.7" fill="#000" stroke="#000" stroke-width="0.18">Montmorency</text>
<text x="95.39 102.35 104.64 106.92 109.70 116.66 118.88 124.62 129.77 134.92" y="308.25" font-size="10.7" fill="#000" stroke="#000" stroke-width="0.18">All Blacks</text>
<text x="91.95 98.84 104.57 110.35 113.16 118.88 124.67 127.44 134.98 137.27 139.56" y="328.25" font-size="10.7" fill="#000" stroke="#000" stroke-width="0.18">Panton Hill</text>
<text x="82.78 89.09 94.81 100.49 109.12 114.86 120.06 122.86 128.56 136.03" y="348.25" font-size="10.7" fill="#000" stroke="#000" stroke-width="0.18">Thomastown</text>
<text x="109.66 116.55 122.28 128.07 130.30 136.02" y="368.25" font-size="10.7" fill="#000" stroke="#000" stroke-width="0.18">Epping</text>
<text x="91.53 101.33 107.12 109.40 112.26 115.13 117.35 123.09 128.23 133.96" y="387.25" font-size="10.7" fill="#000" stroke="#000" stroke-width="0.18">Whittlesea</text>
<text x="77.33 84.28 86.51 92.23 98.02 100.84 106.03 108.80 116.27 122.01 127.15 132.93 136.32" y="407.25" font-size="10.7" fill="#000" stroke="#000" stroke-width="0.18">Plenty Rovers</text>
<text x="64.99 72.46 78.26 80.48 86.21 92.00 94.23 99.95 105.73 109.11 114.90 117.63 127.42 133.16 138.36" y="427.25" font-size="10.7" fill="#000" stroke="#000" stroke-width="0.18">Heidelberg West</text>
<text x="97.15 104.63 110.37 115.50 121.28 124.67 129.81 135.61 137.87" y="447.25" font-size="10.7" fill="#000" stroke="#000" stroke-width="0.18">Reservoir</text>
<text x="53.35 60.82 66.56 71.70 77.47 80.87 86.01 91.80 94.07 97.51 100.32 106.04 111.78 116.92 122.66 127.87 130.09 135.82" y="466.25" font-size="10.7" fill="#000" stroke="#000" stroke-width="0.18">Reservoir Lakeside</text>
<text x="79.86 89.66 95.40 100.59 103.45 106.24 113.18 116.56 122.30 127.49 130.30 136.03" y="486.25" font-size="10.7" fill="#000" stroke="#000" stroke-width="0.18">West Preston</text>
<text x="35.56 45.36 51.10 56.29 59.15 61.94 68.87 72.26 78.00 83.19 86.00 91.73 97.51 100.32 106.04 111.78 116.92 122.66 127.87 130.09 135.82" y="506.25" font-size="10.7" fill="#000" stroke="#000" stroke-width="0.18">West Preston Lakeside</text>
<text x="58.01 66.65 72.38 77.59 79.81 85.54 91.27 97.05 99.83 107.30 113.04 118.18 123.90 129.63 135.36" y="526.25" font-size="10.7" fill="#000" stroke="#000" stroke-width="0.18">Macleod Rosanna</text>
<text x="75.63 82.52 88.25 94.03 96.84 102.62 105.37 114.01 119.78 123.17 128.90 134.62" y="545.25" font-size="10.7" fill="#000" stroke="#000" stroke-width="0.18">South Morang</text>
<text x="63.86 71.33 77.10 80.54 83.35 89.13 91.90 99.38 105.17 107.39 113.12 118.92 121.14 126.87 132.64 136.02" y="565.25" font-size="10.7" fill="#000" stroke="#000" stroke-width="0.18">North Heidelberg</text>
<text x="118.36 124.08 129.88 132.10 137.87" y="585.25" font-size="10.7" fill="#000" stroke="#000" stroke-width="0.18">Lalor</text>
<text x="96.68 106.48 112.26 115.08 120.22 125.94 131.74 133.96" y="605.25" font-size="10.7" fill="#000" stroke="#000" stroke-width="0.18">Watsonia</text>
<text x="96.40 103.29 109.02 114.75 120.47 126.20 131.98 135.36" y="625.25" font-size="10.7" fill="#000" stroke="#000" stroke-width="0.18">Bundoora</text>
<text x="72.35 79.82 85.59 89.03 91.84 97.58 102.72 108.50 111.31 117.09 119.87 126.77 132.54 135.93" y="644.25" font-size="10.7" fill="#000" stroke="#000" stroke-width="0.18">Northcote Park</text>
<text x="92.75 99.06 104.79 110.56 113.94 119.67 125.40 131.17 134.57" y="664.25" font-size="10.7" fill="#000" stroke="#000" stroke-width="0.18">Thornbury</text>
<text x="97.64 105.11 110.85 115.99 121.72 127.49 130.89 136.03" y="684.25" font-size="10.7" fill="#000" stroke="#000" stroke-width="0.18">Research</text>
<text x="51.85 58.80 61.66 64.45 71.34 77.07 82.84 86.22 91.92 99.40 104.59 107.94 115.41 121.14 126.87 132.64 136.02" y="704.25" font-size="10.7" fill="#000" stroke="#000" stroke-width="0.18">St Andrews-Coburg</text>
<text x="81.57 87.30 92.99 100.46 106.24 109.68 112.46 119.42 121.64 127.37 133.15 135.97" y="723.25" font-size="10.7" fill="#000" stroke="#000" stroke-width="0.18">Lower Plenty</text>
<text x="80.39 86.69 92.49 94.75 98.19 101.07 103.29 109.08 111.31 117.09 119.87 126.77 132.54 135.93" y="743.25" font-size="10.7" fill="#000" stroke="#000" stroke-width="0.18">Fairfield Park</text>
<text x="102.01 108.97 111.19 116.92 122.72 124.94 130.68 135.82" y="763.25" font-size="10.7" fill="#000" stroke="#000" stroke-width="0.18">Kinglake</text>
<text x="77.53 83.83 89.53 97.01 102.15 107.88 113.65 117.09 119.87 126.77 132.54 135.93" y="783.25" font-size="10.7" fill="#000" stroke="#000" stroke-width="0.18">Fawkner Park</text>
<text x="110.20 120.00 125.79 128.08 130.30 136.03" y="802.25" font-size="10.7" fill="#000" stroke="#000" stroke-width="0.18">Wallan</text>
<text x="101.45 108.34 114.12 117.51 122.66 127.87 130.09 135.82" y="822.25" font-size="10.7" fill="#000" stroke="#000" stroke-width="0.18">Parkside</text>
<text x="83.65 90.02 92.29 95.11 100.30 103.68 109.42 114.61 117.40 124.35 127.15 132.93 136.32" y="842.25" font-size="10.7" fill="#000" stroke="#000" stroke-width="0.18">Fitzroy Stars</text>
<text x="97.44 104.39 107.25 110.00 118.64 124.41 127.81 133.02 134.92" y="862.25" font-size="10.7" fill="#000" stroke="#000" stroke-width="0.18">St Mary's</text>
<text x="104.30 111.19 116.92 122.66 127.80 133.60 135.82" y="881.25" font-size="10.7" fill="#000" stroke="#000" stroke-width="0.18">Banyule</text>
<text x="106.61 113.57 115.86 118.02 126.66 132.43 135.82" y="901.25" font-size="10.7" fill="#000" stroke="#000" stroke-width="0.18">Kilmore</text>
<text x="100.62 106.35 112.07 117.85 121.30 123.47 132.10 137.87" y="921.25" font-size="10.7" fill="#000" stroke="#000" stroke-width="0.18">Laurimar</text>
<text x="58.43 65.38 67.66 70.47 76.20 81.87 90.56 93.33 100.80 106.60 108.89 111.11 116.84 122.63 124.85 130.58 136.32" y="941.25" font-size="10.7" fill="#000" stroke="#000" stroke-width="0.18">Eltham Collegians</text>
<text x="232.13 238.36 245.79 251.54 254.34 259.52 261.72 267.41 273.12 278.29 281.00 289.59 295.34 298.69 304.39 310.14 312.99 315.77 321.53 324.37 327.15 332.89 336.19 344.84 347.58 354.99 361.86 367.03 369.87 372.65 378.34 384.10 386.88 392.62 396.05 398.76 407.35 413.12 415.32 421.01 426.71 432.45 435.81 441.50 447.26 450.01 456.87 462.57 467.69 472.86 475.64 481.33 487.03 492.72 498.41 504.11 509.86 512.64 518.34 524.03 529.72" y="121.80" font-size="10.7" fill="#000" stroke="#000" stroke-width="0.18">Two clubs merge to form DVJ, enter Melbourne Boys League 1938</text>
<text x="278.79 287.42 293.20 296.58 302.31 308.08 311.52 314.31 321.20 326.93 332.67" y="150.60" font-size="10.7" fill="#000" stroke="#000" stroke-width="0.18">Merger Ends</text>
<text x="227.23 234.03 242.64 248.41 250.62 256.32 261.96 270.56 276.33 279.11 284.81 290.58 293.33 300.84 303.11 305.90 311.66 314.41 321.85 327.63 329.83 335.53 341.31 343.52 349.22 354.97 358.33" y="308.80" font-size="10.7" fill="#000" stroke="#000" stroke-width="0.18">Amalgamated with Heidelberg</text>
<text x="403.04 406.41 412.11 417.81 423.45 432.05 437.75 443.51 446.24 454.84 460.59 463.95 469.65 475.35 481.11 483.96 486.75 492.45 498.21 501.06 503.92 506.12 511.89 514.63 522.05 528.90 535.17 540.93 543.72 549.48 552.33 555.18 558.04 560.18 568.78" y="419.00" font-size="10.7" fill="#000" stroke="#000" stroke-width="0.18">renamed Mernda, not in DVFL at time</text>
<text x="578.42 584.64 592.06 597.81 600.59 605.77 607.96 613.64 619.34 624.50 627.21 635.79 641.53 644.87 650.56 656.24" y="477.00" font-size="10.7" fill="#000" stroke="#000" stroke-width="0.18">Two clubs merged</text>
<text x="593.74 597.07 602.72 608.38 613.97 622.51 628.17 633.90 636.58 645.13 650.80 655.96 658.14 663.79 669.45" y="537.60" font-size="10.7" fill="#000" stroke="#000" stroke-width="0.18">renamed Macleod</text>
<text x="499.96 508.62 514.41 517.82 523.57 529.32 535.12 537.91 545.47 547.75 550.57 556.37 559.17 566.66 572.42 577.58 583.37 586.78 591.94 597.75 600.03 603.48 606.27 613.77 619.53 624.69 630.48 633.89 639.10 641.97 644.84 648.24 653.94 662.65 665.52 668.34 674.09 679.89 682.70 689.58 697.07 703.39" y="675.00" font-size="10.7" fill="#000" stroke="#000" stroke-width="0.18">merged with Reservoir Rovers from the PHFL</text>
<text x="265.06 282.57 300.10" y="214.90" font-size="18.67" fill="#000" stroke="#000" stroke-width="0.1">WW2</text>
<text x="689.81 703.22 713.54 722.83 726.93 737.26 743.43 753.74" y="215.00" font-size="18.67" fill="#000" stroke="#000" stroke-width="0.1">Covid-19</text>
<text x="434.74 442.01 449.29 456.57 463.88 467.51 471.87 475.45 484.96 487.83 494.41 497.28 503.86 506.72 514.00 521.31 524.91" y="255.90" font-size="13.33" fill="#f5a030" stroke="#f5a030" stroke-width="0.05">1981 - Division 2</text>
<text x="609.32 616.72 624.11 631.51 638.91 642.61 647.04 650.72 660.33 663.29 669.94 672.89 679.54 682.49 689.89 697.29 700.98" y="255.90" font-size="13.33" fill="#f5a030" stroke="#f5a030" stroke-width="0.05">2009 - Division 3</text>
<text x="589.77 599.29 606.58 617.56 624.88 632.22 635.88 638.80 642.46 645.36 652.67 660.02 663.67 668.03 675.35 682.66 689.96 700.94 708.26 715.60 719.22 728.73 736.77" y="305.60" font-size="13.33" fill="#e81818" stroke="#e81818" stroke-width="0.05">Competition renamed NFL</text>
<rect x="48.00" y="982.00" width="12.80" height="12.60" fill="#0000f5"/>
<rect x="210.30" y="982.00" width="12.80" height="12.60" fill="#b5474d"/>
<rect x="373.30" y="982.00" width="12.80" height="12.60" fill="#00b000"/>
<text x="69.61 77.15 79.38 84.59 86.82 92.03 94.25 99.98 105.76 108.57 114.35 117.13 124.07 127.46 133.13 141.83 144.05 149.83 153.22" y="994.00" font-size="10.7" fill="#000" stroke="#000" stroke-width="0.18">Division 1 Premiers</text>
<text x="232.21 239.75 241.98 247.19 249.42 254.63 256.85 262.58 268.36 271.17 276.95 279.73 286.67 290.06 295.73 304.43 306.65 312.43 315.82" y="994.00" font-size="10.7" fill="#000" stroke="#000" stroke-width="0.18">Division 2 Premiers</text>
<text x="394.91 402.45 404.68 409.89 412.12 417.33 419.55 425.28 431.06 433.87 439.65 442.43 449.37 452.76 458.43 467.13 469.35 475.13 478.52" y="994.00" font-size="10.7" fill="#000" stroke="#000" stroke-width="0.18">Division 3 Premiers</text>
</svg>
</body></html>
